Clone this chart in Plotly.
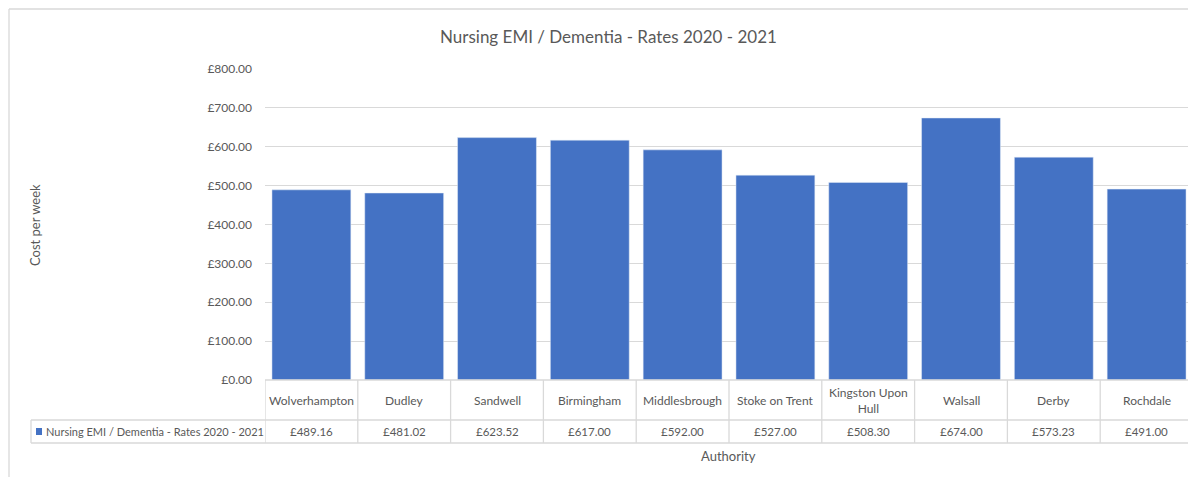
import plotly.graph_objects as go

authorities = ["Wolverhampton", "Dudley", "Sandwell", "Birmingham", "Middlesbrough",
               "Stoke on Trent", "Kingston Upon Hull", "Walsall", "Derby", "Rochdale"]
header_labels = ["Wolverhampton", "Dudley", "Sandwell", "Birmingham", "Middlesbrough",
                 "Stoke on Trent", "Kingston Upon<br>Hull", "Walsall", "Derby", "Rochdale"]
rates = [489.16, 481.02, 623.52, 617.00, 592.00, 527.00, 508.30, 674.00, 573.23, 491.00]
series_name = "Nursing EMI / Dementia - Rates 2020 - 2021"
y_ticks = [0, 100, 200, 300, 400, 500, 600, 700, 800]

OFF = 8  # page body margin offset
W, H = 1196 - OFF, 477 - OFF
L, R, T, B = 265 - OFF, 1193 - OFF, 69 - OFF, 380 - OFF
FONT = "Lato"
GREY = "#595959"
LINE = "#d9d9d9"
BLUE = "#4472C4"

def py(pix):
    # screen pixel y -> paper y
    return (B - (pix - OFF)) / (B - T)

def px(pix):
    return ((pix - OFF) - L) / (R - L)

fig = go.Figure()
fig.add_trace(go.Bar(x=list(range(len(authorities))), y=rates, marker_color=BLUE,
                     name=series_name, width=0.85, hoverinfo="y"))

n = len(authorities)
shapes = []
shapes.append(dict(type="line", xref="x", yref="paper", x0=-0.5, x1=n - 0.5,
                   y0=py(380), y1=py(380), line=dict(color=LINE, width=1.3)))
for yy in [420, 443]:
    shapes.append(dict(type="line", xref="paper", yref="paper", x0=px(31), x1=1,
                       y0=py(yy), y1=py(yy), line=dict(color=LINE, width=1.3)))
for i in range(n + 1):
    shapes.append(dict(type="line", xref="x", yref="paper", x0=i - 0.5, x1=i - 0.5,
                       y0=py(380), y1=py(443), line=dict(color=LINE, width=1.3)))
shapes.append(dict(type="line", xref="paper", yref="paper", x0=px(31), x1=px(31),
                   y0=py(420), y1=py(443), line=dict(color=LINE, width=1.3)))
shapes.append(dict(type="rect", xref="paper", yref="paper", x0=px(36), x1=px(42),
                   y0=py(428), y1=py(435), fillcolor=BLUE, line=dict(width=0)))
shapes.append(dict(type="line", xref="paper", yref="paper", x0=px(9), x1=px(1196),
                   y0=py(9), y1=py(9), line=dict(color=LINE, width=1.3)))
shapes.append(dict(type="line", xref="paper", yref="paper", x0=px(9), x1=px(9),
                   y0=py(9), y1=py(477), line=dict(color=LINE, width=1.3)))

annotations = []
for i in range(n):
    annotations.append(dict(x=i, y=py(400), xref="x", yref="paper", text=header_labels[i],
                            showarrow=False, font=dict(family=FONT, size=12, color=GREY),
                            xanchor="center", yanchor="middle"))
    annotations.append(dict(x=i, y=py(431.5), xref="x", yref="paper", text="£%.2f" % rates[i],
                            showarrow=False, font=dict(family=FONT, size=11.5, color=GREY),
                            xanchor="center", yanchor="middle"))
annotations.append(dict(x=px(44), y=py(431.5), xref="paper", yref="paper", text=series_name,
                        showarrow=False, font=dict(family=FONT, size=11, color=GREY),
                        xanchor="left", yanchor="middle"))
annotations.append(dict(x=px(728), y=py(456), xref="paper", yref="paper", text="Authority",
                        showarrow=False, font=dict(family=FONT, size=13, color=GREY),
                        xanchor="center", yanchor="middle"))
annotations.append(dict(x=px(35), y=py(225), xref="paper", yref="paper", text="Cost per week",
                        showarrow=False, textangle=-90, font=dict(family=FONT, size=13, color=GREY),
                        xanchor="center", yanchor="middle"))
annotations.append(dict(x=px(608), y=py(37), xref="paper", yref="paper",
                        text="Nursing EMI / Dementia - Rates 2020 - 2021",
                        showarrow=False, font=dict(family=FONT, size=17, color=GREY),
                        xanchor="center", yanchor="middle"))

fig.update_layout(
    width=W, height=H,
    margin=dict(l=L, r=W - R, t=T, b=H - B, pad=0),
    paper_bgcolor="white", plot_bgcolor="white",
    showlegend=False,
    bargap=0.15,
    xaxis=dict(range=[-0.5, n - 0.5], showticklabels=False, showgrid=False, zeroline=False,
               showline=False, ticks=""),
    yaxis=dict(range=[0, 800], tickvals=y_ticks, ticktext=["£%.2f" % v for v in y_ticks],
               showgrid=True, gridcolor=LINE, gridwidth=1.3, zeroline=False, showline=False,
               ticks="", ticklabelstandoff=12,
               tickfont=dict(family=FONT, size=12, color=GREY)),
    shapes=shapes, annotations=annotations,
)

fig.write_html("out.html")
